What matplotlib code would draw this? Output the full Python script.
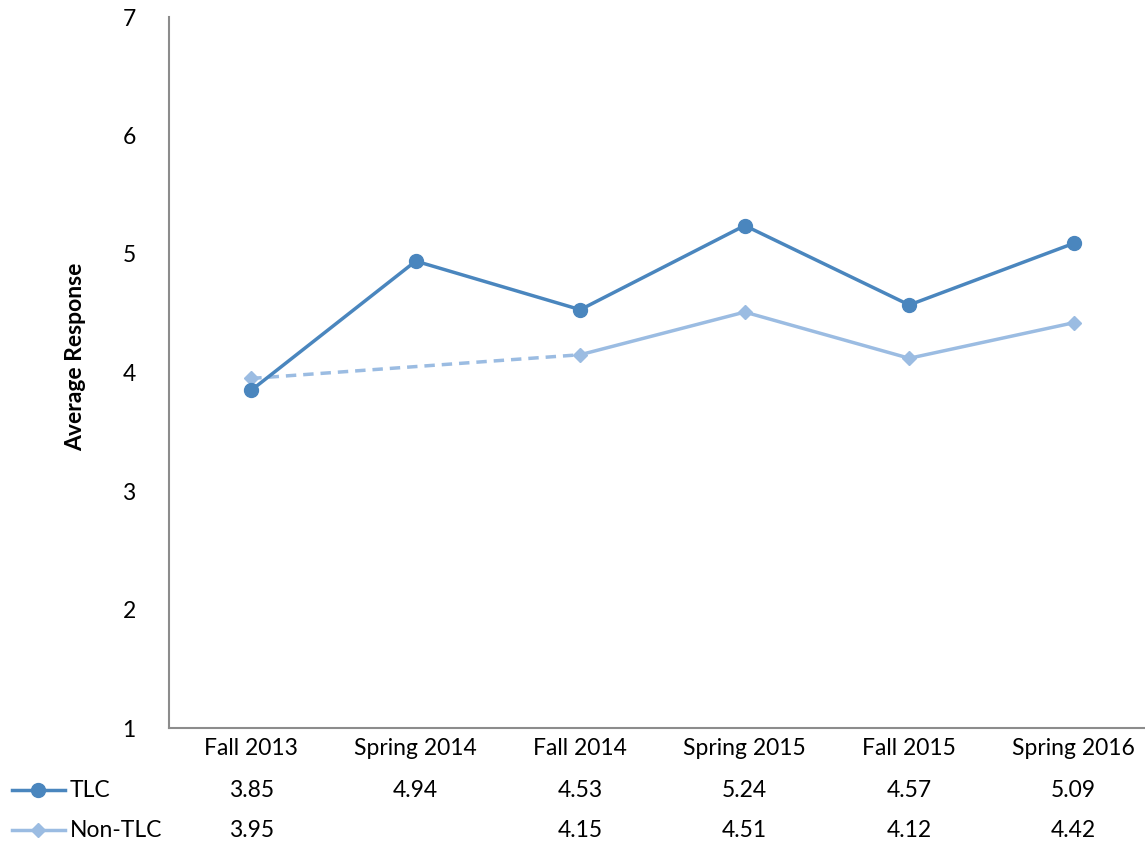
import matplotlib
matplotlib.use("Agg")
import matplotlib.pyplot as plt
import matplotlib.transforms as mtransforms
import numpy as np

categories = ["Fall 2013", "Spring 2014", "Fall 2014", "Spring 2015", "Fall 2015", "Spring 2016"]
tlc = [3.85, 4.94, 4.53, 5.24, 4.57, 5.09]
non_tlc = [3.95, None, 4.15, 4.51, 4.12, 4.42]
series_names = ["TLC", "Non-TLC"]
yticks = [1, 2, 3, 4, 5, 6, 7]

c_tlc = "#4A86BE"
c_non = "#9BBCE2"
FONT = ["Lato", "DejaVu Sans"]
plt.rcParams['font.family'] = FONT
FS = 16.5

W, H = 1145, 846
fig = plt.figure(figsize=(W / 100, H / 100), dpi=100)
left, right, top, bottom = 169, 1156, 17, 728
ax = fig.add_axes([left / W, 1 - bottom / H, (right - left) / W, (bottom - top) / H])

x = np.arange(len(categories))
ax.plot(x, tlc, color=c_tlc, lw=2.5, marker="o", ms=10, zorder=3)

nx = [i for i, v in enumerate(non_tlc) if v is not None]
ny = [non_tlc[i] for i in nx]
for a, b in zip(nx[:-1], nx[1:]):
    if b - a > 1:
        ax.plot([a, b], [non_tlc[a], non_tlc[b]], color=c_non, lw=2.5, ls="--",
                dashes=(3, 2), zorder=2)
    else:
        ax.plot([a, b], [non_tlc[a], non_tlc[b]], color=c_non, lw=2.5, zorder=2)
ax.plot(nx, ny, color=c_non, lw=0, marker="D", ms=7, zorder=2)

ax.set_xlim(-0.5, len(categories) - 0.5)
ax.set_ylim(1, 7)
ax.set_yticks(yticks)
ax.set_yticklabels([str(t) for t in yticks], fontsize=FS)
ax.tick_params(axis="y", length=0, pad=24)
ax.set_xticks([])
for s in ["top", "right"]:
    ax.spines[s].set_visible(False)
for s in ["left", "bottom"]:
    ax.spines[s].set_color("#8C8C8C")
    ax.spines[s].set_linewidth(1.5)

fig.text(76 / W, 1 - 357 / H, "Average Response", rotation=90, fontsize=FS,
         fontweight="bold", ha="center", va="center")

trans = mtransforms.blended_transform_factory(ax.transData, fig.transFigure)
for i, cat in enumerate(categories):
    ax.text(i, 1 - 748 / H, cat, transform=trans, ha="center", va="center", fontsize=FS)
    ax.text(i, 1 - 790 / H, f"{tlc[i]:.2f}", transform=trans, ha="center", va="center", fontsize=FS)
    if non_tlc[i] is not None:
        ax.text(i, 1 - 830 / H, f"{non_tlc[i]:.2f}", transform=trans, ha="center", va="center", fontsize=FS)

for yy, col, mk, ms, name in [(790, c_tlc, "o", 10, series_names[0]), (830, c_non, "D", 7, series_names[1])]:
    fy = 1 - yy / H
    fig.add_artist(plt.Line2D([12 / W, 65 / W], [fy, fy], color=col, lw=2.5, transform=fig.transFigure))
    fig.add_artist(plt.Line2D([38 / W], [fy], color=col, marker=mk, ms=ms, lw=0, transform=fig.transFigure))
    fig.text(70 / W, fy, name, ha="left", va="center", fontsize=FS)

fig.savefig("out.png", dpi=100)
